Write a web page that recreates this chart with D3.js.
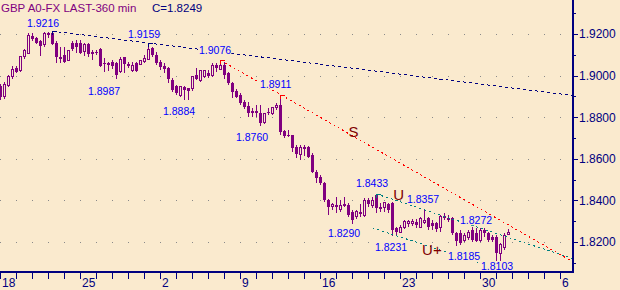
<!DOCTYPE html>
<html lang="en">
<head>
<meta charset="utf-8">
<script src="https://d3js.org/d3.v7.min.js"></script>
<style>
  body { margin: 0; background: #faeace; }
  svg { display: block; }
</style>
</head>
<body>
<div id="chart"></div>
<script>
// header
var titleText = "GBP A0-FX LAST-360 min";
var closeText = "C=1.8249";

// 360 min candles, 4 per trading day
var opens = [1.8952,1.8900,1.8957,1.8996,1.9039,1.9025,1.9092,1.9111,1.9193,1.9183,
  1.9169,1.9150,1.9207,1.9207,1.9159,1.9092,1.9101,1.9077,1.9159,1.9159,
  1.9159,1.9116,1.9154,1.9116,1.9116,1.9130,1.9063,1.9063,1.9068,1.9063,
  1.9020,1.9092,1.9058,1.9029,1.9063,1.9058,1.9068,1.9082,1.9135,1.9101,
  1.9068,1.9049,1.9039,1.8981,1.8952,1.8909,1.8948,1.8943,1.8938,1.9005,
  1.8981,1.8996,1.9015,1.9005,1.9053,1.9034,1.9053,1.9015,1.8967,1.8928,
  1.8909,1.8876,1.8856,1.8832,1.8832,1.8823,1.8775,1.8827,1.8818,1.8847,
  1.8861,1.8736,1.8717,1.8717,1.8659,1.8625,1.8659,1.8659,1.8621,1.8539,
  1.8515,1.8486,1.8404,1.8371,1.8380,1.8361,1.8385,1.8380,1.8347,1.8323,
  1.8347,1.8332,1.8404,1.8380,1.8428,1.8371,1.8366,1.8385,1.8390,1.8270,
  1.8250,1.8274,1.8289,1.8289,1.8299,1.8274,1.8294,1.8318,1.8294,1.8294,
  1.8270,1.8328,1.8318,1.8318,1.8245,1.8245,1.8212,1.8222,1.8260,1.8245,
  1.8212,1.8260,1.8245,1.8226,1.8226,1.8149,1.8178,1.8240];
var highs = [1.8962,1.8972,1.9005,1.9049,1.9049,1.9097,1.9130,1.9207,1.9207,1.9188,
  1.9174,1.9212,1.9212,1.9216,1.9169,1.9140,1.9140,1.9125,1.9169,1.9174,
  1.9174,1.9159,1.9159,1.9125,1.9125,1.9135,1.9087,1.9068,1.9077,1.9068,
  1.9092,1.9092,1.9068,1.9068,1.9068,1.9077,1.9101,1.9159,1.9140,1.9116,
  1.9077,1.9063,1.9044,1.8991,1.8957,1.8952,1.8952,1.8943,1.9000,1.9039,
  1.9029,1.9029,1.9029,1.9063,1.9063,1.9076,1.9068,1.9020,1.8972,1.8938,
  1.8919,1.8885,1.8876,1.8847,1.8861,1.8861,1.8823,1.8847,1.8851,1.8871,
  1.8911,1.8741,1.8741,1.8717,1.8669,1.8669,1.8669,1.8664,1.8630,1.8549,
  1.8524,1.8491,1.8409,1.8390,1.8419,1.8404,1.8419,1.8390,1.8356,1.8356,
  1.8385,1.8414,1.8414,1.8419,1.8433,1.8390,1.8395,1.8390,1.8395,1.8274,
  1.8284,1.8308,1.8308,1.8313,1.8313,1.8323,1.8357,1.8323,1.8308,1.8299,
  1.8332,1.8342,1.8332,1.8323,1.8250,1.8260,1.8245,1.8260,1.8274,1.8272,
  1.8270,1.8270,1.8250,1.8236,1.8236,1.8197,1.8245,1.8265];
var lows = [1.8885,1.8890,1.8948,1.8986,1.9015,1.9020,1.9082,1.9111,1.9169,1.9154,
  1.9097,1.9140,1.9183,1.9150,1.9063,1.9063,1.9063,1.9073,1.9121,1.9111,
  1.9106,1.9097,1.9092,1.9077,1.9101,1.9044,1.9020,1.9025,1.9034,1.8987,
  1.9015,1.9015,1.9039,1.9020,1.9020,1.9053,1.9063,1.9077,1.9092,1.9053,
  1.9029,1.9015,1.8967,1.8924,1.8909,1.8900,1.8884,1.8885,1.8928,1.8981,
  1.8972,1.8991,1.8991,1.8996,1.9020,1.9029,1.8986,1.8957,1.8895,1.8895,
  1.8861,1.8842,1.8803,1.8803,1.8803,1.8760,1.8770,1.8813,1.8813,1.8837,
  1.8717,1.8702,1.8707,1.8635,1.8606,1.8597,1.8616,1.8606,1.8534,1.8486,
  1.8476,1.8395,1.8332,1.8356,1.8342,1.8347,1.8371,1.8323,1.8290,1.8313,
  1.8323,1.8323,1.8371,1.8366,1.8342,1.8347,1.8347,1.8342,1.8231,1.8236,
  1.8245,1.8265,1.8274,1.8279,1.8270,1.8270,1.8289,1.8260,1.8260,1.8250,
  1.8250,1.8308,1.8299,1.8236,1.8185,1.8188,1.8202,1.8212,1.8202,1.8202,
  1.8202,1.8226,1.8202,1.8202,1.8103,1.8112,1.8164,1.8236];
var closes = [1.8900,1.8962,1.8996,1.9034,1.9020,1.9092,1.9121,1.9193,1.9178,1.9159,
  1.9145,1.9207,1.9198,1.9154,1.9092,1.9082,1.9068,1.9121,1.9130,1.9140,
  1.9111,1.9154,1.9106,1.9106,1.9111,1.9049,1.9058,1.9053,1.9049,1.9005,
  1.9082,1.9058,1.9049,1.9053,1.9025,1.9077,1.9087,1.9130,1.9101,1.9063,
  1.9044,1.9034,1.8986,1.8933,1.8919,1.8948,1.8933,1.8928,1.9000,1.8986,
  1.9025,1.9025,1.9000,1.9049,1.9039,1.9053,1.9005,1.8967,1.8924,1.8900,
  1.8871,1.8851,1.8823,1.8823,1.8823,1.8775,1.8818,1.8823,1.8847,1.8861,
  1.8731,1.8712,1.8712,1.8654,1.8625,1.8659,1.8650,1.8611,1.8539,1.8510,
  1.8486,1.8404,1.8371,1.8385,1.8371,1.8380,1.8376,1.8332,1.8308,1.8347,
  1.8337,1.8404,1.8385,1.8404,1.8366,1.8361,1.8390,1.8356,1.8260,1.8250,
  1.8274,1.8299,1.8299,1.8299,1.8284,1.8313,1.8308,1.8274,1.8279,1.8265,
  1.8323,1.8318,1.8308,1.8245,1.8207,1.8198,1.8236,1.8250,1.8212,1.8207,
  1.8260,1.8245,1.8212,1.8212,1.8149,1.8188,1.8236,1.8249];

// axes
var priceGrid = [1.82, 1.84, 1.86, 1.88, 1.90, 1.92];
var priceTicks = [1.81, 1.82, 1.83, 1.84, 1.85, 1.86, 1.87, 1.88, 1.89, 1.90, 1.91, 1.92, 1.93];
var dayLabels = ["18", "25", "2", "9", "16", "23", "30", "6"];
var dayLabelAt = [0, 5, 10, 15, 20, 25, 30, 35];

// trend lines [candle, price] -> [candle, price]
var blueLine = [[13, 1.9216], [143, 1.8907]];
var redLine = [[55, 1.9076], [143, 1.8108]];
var upperU = [[94, 1.8433], [143, 1.8123]];
var lowerU = [[93, 1.8270], [119.5, 1.8104]];

// pivot values written on the chart
var pivotPrice = [1.9216, 1.9159, 1.9076, 1.8911, 1.8987, 1.8884, 1.8760, 1.8433, 1.8290, 1.8357, 1.8231, 1.8272, 1.8185, 1.8103];
var pivotCandle = [13, 37, 55, 70, 29, 46, 65, 94, 88, 106, 98, 119, 114, 124];
// label offset from the pivot, px
var pivotDx = [-25.5, -20.5, -21.5, -20.5, -28.5, -21.5, -24.5, -20.5, -24.5, -17.5, -17.5, -16.5, -8.5, -15.5];
var pivotDy = [-3.7, -5.5, -6, -7, 16.6, 15, 15, -6.6, 13.6, -6.7, 15, -3.3, 14.4, 7.3];

// wave letters
var waveText = ["S", "U", "U+"];
var waveCandle = [87, 98.2, 105.4];
var waveLevel = [1.8707, 1.8404, 1.8140];

var bg = "#faeace";
var purple = "#800080";
var navy = "#000080";
var font = "'Liberation Sans', Arial, sans-serif";

var x = d3.scaleLinear().domain([0, 143]).range([0.5, 572.5]);
var y = d3.scaleLinear().domain([1.82, 1.92]).range([242.5, 34.5]);
var fmt = d3.format(".4f");

var svg = d3.select("#chart").append("svg")
  .attr("width", 620)
  .attr("height", 290);

svg.append("rect")
  .attr("width", 620)
  .attr("height", 290)
  .attr("fill", bg);

// dotted grid
svg.append("g").selectAll("line")
  .data(priceGrid)
  .enter().append("line")
    .attr("x1", 0)
    .attr("x2", 572)
    .attr("y1", function(d){ return Math.floor(y(d)) + 0.5; })
    .attr("y2", function(d){ return Math.floor(y(d)) + 0.5; })
    .attr("stroke", "#8a8a8a")
    .attr("stroke-dasharray", "1,15");

// candles
var idx = d3.range(opens.length);
var candles = svg.append("g").attr("shape-rendering", "crispEdges");

candles.selectAll("line")
  .data(idx)
  .enter().append("line")
    .attr("x1", function(i){ return x(i); })
    .attr("x2", function(i){ return x(i); })
    .attr("y1", function(i){ return y(highs[i]); })
    .attr("y2", function(i){ return y(lows[i]); })
    .attr("stroke", purple);

candles.selectAll("rect")
  .data(idx)
  .enter().append("rect")
    .attr("x", function(i){ return closes[i] >= opens[i] ? x(i) - 1 : x(i) - 1.5; })
    .attr("width", function(i){ return closes[i] >= opens[i] ? 2 : 3; })
    .attr("y", function(i){ return y(Math.max(opens[i], closes[i])); })
    .attr("height", function(i){
      return Math.max(1, y(Math.min(opens[i], closes[i])) - y(Math.max(opens[i], closes[i])));
    })
    .attr("fill", function(i){ return closes[i] >= opens[i] ? bg : purple; })
    .attr("stroke", function(i){ return closes[i] >= opens[i] ? purple : "none"; });

// trend lines
var line = d3.line()
  .x(function(d){ return x(d[0]); })
  .y(function(d){ return y(d[1]); });

var trends = [
  {pts: blueLine, color: navy, dash: "3,3"},
  {pts: redLine, color: "#ff0000", dash: "2,3"},
  {pts: upperU, color: "#008080", dash: "2,3"},
  {pts: lowerU, color: "#008080", dash: "2,3"}
];

var tg = svg.append("g");
trends.forEach(function(t){
  tg.append("path")
    .attr("d", line(t.pts))
    .attr("fill", "none")
    .attr("stroke", t.color)
    .attr("stroke-dasharray", t.dash)
    .attr("shape-rendering", "crispEdges");
});

// little flags on the pivots the lines hang from
var flags = [[13, 1.9216, navy], [37, 1.9159, navy], [55, 1.9076, "#ff0000"], [70, 1.8911, "#ff0000"], [94, 1.8433, "#008080"]];
flags.forEach(function(f){
  var fx = x(f[0]), fy = Math.round(y(f[1])) + 0.5;
  tg.append("path")
    .attr("d", "M" + fx + "," + (fy + 3) + "V" + fy + "H" + (fx + 4))
    .attr("fill", "none")
    .attr("stroke", f[2])
    .attr("shape-rendering", "crispEdges");
});

// pivot labels, with a background box
var lg = svg.append("g");
pivotPrice.forEach(function(p, k){
  var t = lg.append("text")
    .attr("x", x(pivotCandle[k]) + pivotDx[k])
    .attr("y", y(p) + pivotDy[k])
    .attr("font-family", font)
    .attr("font-size", 10.5)
    .attr("fill", "#0000ff")
    .text(fmt(p));
  var b = t.node().getBBox();
  lg.insert("rect", function(){ return t.node(); })
    .attr("x", b.x)
    .attr("y", b.y + 1)
    .attr("width", b.width)
    .attr("height", b.height - 2)
    .attr("fill", bg);
});

waveText.forEach(function(w, k){
  svg.append("text")
    .attr("x", x(waveCandle[k]))
    .attr("y", y(waveLevel[k]))
    .attr("font-family", font)
    .attr("font-size", 15)
    .attr("fill", "#800000")
    .text(w);
});

// title
svg.append("text")
  .attr("x", 1)
  .attr("y", 12)
  .attr("font-family", font)
  .attr("font-size", 11.5)
  .attr("fill", purple)
  .text(titleText);
svg.append("text")
  .attr("x", 152)
  .attr("y", 12)
  .attr("font-family", font)
  .attr("font-size", 11.5)
  .attr("fill", navy)
  .text(closeText);

// right axis
var yAxis = d3.axisRight(y)
  .tickValues(priceTicks)
  .tickSize(4)
  .tickPadding(1)
  .offset(0)
  .tickFormat(function(d){ return priceGrid.some(function(g){ return Math.abs(g - d) < 1e-6; }) ? fmt(d) : ""; });

var yGuide = svg.append("g")
  .attr("transform", "translate(574,0)")
  .call(yAxis);
yGuide.select(".domain").remove();
yGuide.selectAll("line")
  .attr("stroke", navy)
  .attr("shape-rendering", "crispEdges")
  .attr("x2", function(d){ return priceGrid.some(function(g){ return Math.abs(g - d) < 1e-6; }) ? 4 : 2; });
yGuide.selectAll("text")
  .attr("fill", navy)
  .attr("font-family", font)
  .attr("font-size", 12);

// bottom axis, one tick per day
var xAxis = d3.axisBottom(x)
  .tickValues(d3.range(0, 143, 4))
  .tickSize(7)
  .offset(0)
  .tickFormat(function(d){
    var k = dayLabelAt.indexOf(d / 4);
    return k < 0 ? "" : dayLabels[k];
  });

var xGuide = svg.append("g")
  .attr("transform", "translate(-0.5,272)")
  .call(xAxis);
xGuide.select(".domain").remove();
xGuide.selectAll("line")
  .attr("stroke", navy)
  .attr("shape-rendering", "crispEdges");
xGuide.selectAll("text")
  .attr("fill", navy)
  .attr("font-family", font)
  .attr("font-size", 12)
  .attr("text-anchor", "start")
  .attr("x", 2)
  .attr("y", 6);

// axis lines
svg.append("line")
  .attr("x1", 0).attr("x2", 574)
  .attr("y1", 272).attr("y2", 272)
  .attr("stroke", navy)
  .attr("stroke-width", 2);
svg.append("line")
  .attr("x1", 573).attr("x2", 573)
  .attr("y1", 0).attr("y2", 273)
  .attr("stroke", navy)
  .attr("stroke-width", 2);
</script>
</body>
</html>
